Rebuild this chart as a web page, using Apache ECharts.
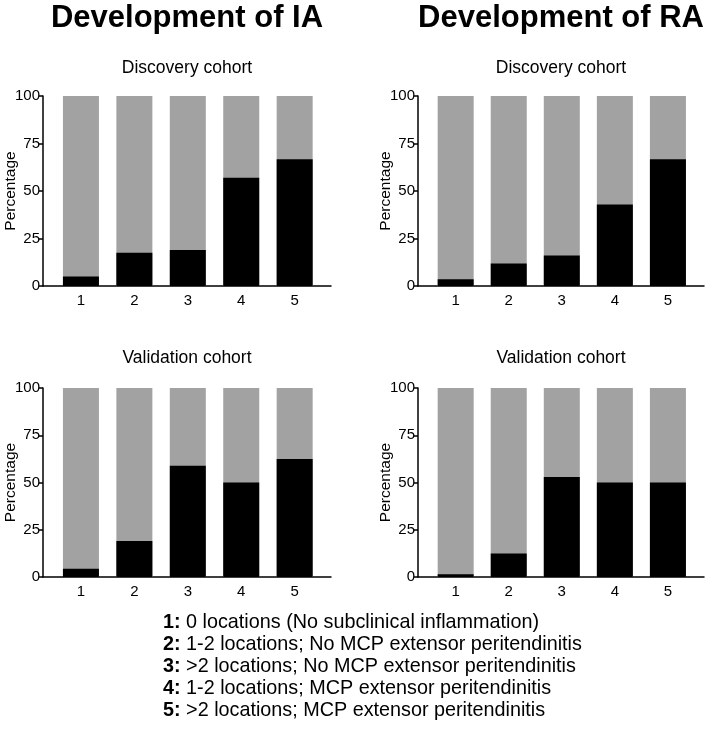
<!DOCTYPE html>
<html>
<head>
<meta charset="utf-8">
<script src="https://cdn.jsdelivr.net/npm/echarts@6/dist/echarts.min.js"></script>
<style>
html,body{margin:0;padding:0;background:#fff;}
#chart{width:709px;height:729px;}
</style>
</head>
<body>
<div id="chart"></div>
<script>
// ---- data ----
const categories = ['1', '2', '3', '4', '5'];
const yTicks = [0, 25, 50, 75, 100];
const iaDiscovery = [5, 17.5, 19, 57, 66.7];
const raDiscovery = [3.5, 11.8, 16, 42.9, 66.7];
const iaValidation = [4.3, 19, 58.8, 50, 62.5];
const raValidation = [1.5, 12.5, 52.9, 50, 50];
const mainTitles = ['Development of IA', 'Development of RA'];
const cohortTitles = ['Discovery cohort', 'Validation cohort'];
const legendKeys = ['1:', '2:', '3:', '4:', '5:'];
const legendTexts = [
  '0 locations (No subclinical inflammation)',
  '1-2 locations; No MCP extensor peritendinitis',
  '>2 locations; No MCP extensor peritendinitis',
  '1-2 locations; MCP extensor peritendinitis',
  '>2 locations; MCP extensor peritendinitis'
];

// ---- layout ----
const FONT = '"Liberation Sans", Arial, Helvetica, sans-serif';
const W = 709, H = 729;
// axis frame of each panel (x from left..right in px, y top..bottom in px)
const panels = [
  {data: iaDiscovery, x0: 43, x1: 331, top: 96, bottom: 286},
  {data: raDiscovery, x0: 418, x1: 704, top: 96, bottom: 286},
  {data: iaValidation, x0: 43, x1: 331, top: 388, bottom: 577},
  {data: raValidation, x0: 418, x1: 704, top: 388, bottom: 577}
];
const FULL = yTicks[yTicks.length - 1];
const BAR_W = 36;
// visible x extent in category units (category k sits at k+1)
const X_MIN = 0.29, X_MAX = 5.68;

const grids = [], xAxes = [], yAxes = [], series = [];
panels.forEach((p, i) => {
  const ppu = (p.x1 - p.x0) / (X_MAX - X_MIN);
  const bl = p.x0 + (0.5 - X_MIN) * ppu;
  const br = p.x0 + (categories.length + 0.5 - X_MIN) * ppu;
  const gA = grids.length;
  // frame grid: carries the extended x axis line + labels
  grids.push({left: p.x0, right: W - p.x1, top: p.top, bottom: H - p.bottom, containLabel: false, outerBoundsMode: 'none'});
  xAxes.push({
    type: 'value', gridIndex: gA, min: X_MIN, max: X_MAX,
    axisLine: {show: true, onZero: false, lineStyle: {color: '#000', width: 1.5}},
    axisTick: {show: false},
    splitLine: {show: false},
    axisLabel: {
      customValues: categories.map((c, k) => k + 1),
      formatter: v => categories[Math.round(v) - 1] || '',
      color: '#000', fontSize: 15, fontFamily: FONT, margin: 7
    }
  });
  yAxes.push({type: 'value', gridIndex: gA, min: 0, max: FULL, show: false});
  // bar grid: category bands exactly under the frame's category positions
  const gB = grids.length;
  grids.push({left: bl, right: W - br, top: p.top, bottom: H - p.bottom, containLabel: false, outerBoundsMode: 'none'});
  xAxes.push({
    type: 'category', gridIndex: gB, data: categories,
    axisLine: {show: false}, axisTick: {show: false}, axisLabel: {show: false}, splitLine: {show: false}
  });
  yAxes.push({
    type: 'value', gridIndex: gB, min: yTicks[0], max: FULL, interval: 25, offset: bl - p.x0,
    name: 'Percentage', nameLocation: 'middle', nameRotate: 90, nameGap: 24, nameMoveOverlap: false,
    nameTextStyle: {color: '#000', fontSize: 15.5, fontFamily: FONT},
    axisLine: {show: true, lineStyle: {color: '#000', width: 1.5}},
    axisTick: {show: true, length: 4, lineStyle: {color: '#000', width: 1.5}},
    splitLine: {show: false},
    axisLabel: {color: '#000', fontSize: 15, fontFamily: FONT, margin: 3}
  });
  // full 100% bar (grey) behind the positive share (black)
  series.push({
    type: 'bar', xAxisIndex: gB, yAxisIndex: gB, barWidth: BAR_W, barGap: '-100%',
    itemStyle: {color: '#a2a2a2'}, z: 2,
    data: p.data.map(() => FULL),
    silent: true, animation: false
  });
  series.push({
    type: 'bar', xAxisIndex: gB, yAxisIndex: gB, barWidth: BAR_W, barGap: '-100%',
    itemStyle: {color: '#000'}, z: 3,
    data: p.data.slice(),
    silent: true, animation: false
  });
});

const graphics = [];
const colCenters = [187, 561];
mainTitles.forEach((t, i) => {
  graphics.push({
    type: 'text', x: colCenters[i], y: 18,
    style: {text: t, fontSize: 31, fontWeight: 'bold', fontFamily: FONT, fill: '#000', textAlign: 'center', textVerticalAlign: 'middle'}
  });
});
[[0, 68], [1, 68], [0, 358], [1, 358]].forEach(([c, y], k) => {
  graphics.push({
    type: 'text', x: colCenters[c], y: y,
    style: {text: cohortTitles[k < 2 ? 0 : 1], fontSize: 17.5, fontFamily: FONT, fill: '#000', textAlign: 'center', textVerticalAlign: 'middle'}
  });
});
legendKeys.forEach((key, k) => {
  graphics.push({
    type: 'text', x: 163, y: 623 + k * 22,
    style: {
      text: '{b|' + key + '} ' + legendTexts[k],
      fontSize: 19.8, fontFamily: FONT, fill: '#000', textAlign: 'left', textVerticalAlign: 'middle',
      rich: {b: {fontWeight: 'bold', fontSize: 19.8, fontFamily: FONT, fill: '#000'}}
    }
  });
});

const chart = echarts.init(document.getElementById('chart'), null, {renderer: 'canvas'});
chart.setOption({
  backgroundColor: '#fff',
  animation: false,
  grid: grids, xAxis: xAxes, yAxis: yAxes, series: series,
  graphic: graphics
});
</script>
</body>
</html>
